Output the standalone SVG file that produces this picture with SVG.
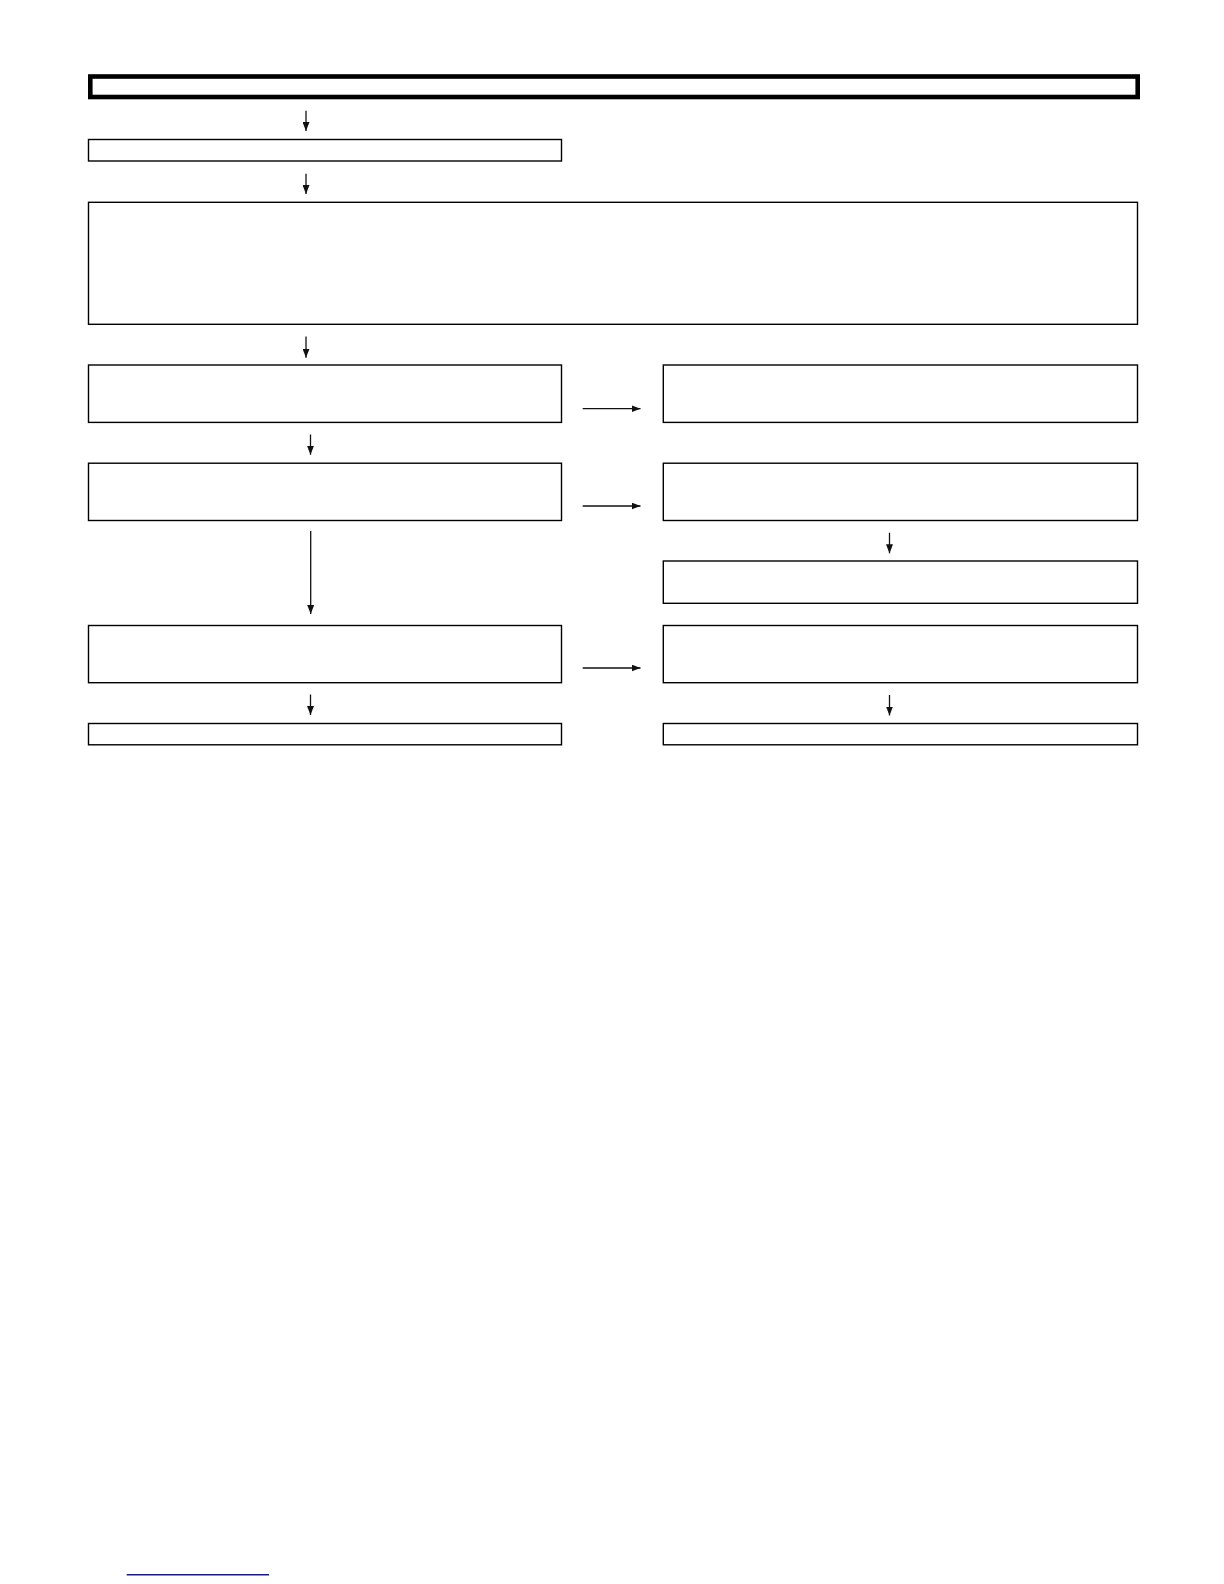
<svg xmlns="http://www.w3.org/2000/svg" width="1224" height="1584" viewBox="0 0 1224 1584">
  <style>
    .box { fill: #ffffff; stroke: #000000; stroke-width: 1.4; }
    .title { fill: #ffffff; stroke: #000000; stroke-width: 4.6; }
    .conn { stroke: #111111; stroke-width: 1.3; fill: none; marker-end: url(#arrow); }
  </style>
  <defs>
    <marker id="arrow" markerUnits="userSpaceOnUse" markerWidth="9" markerHeight="7" refX="9" refY="3.5" orient="auto">
      <path d="M0,0 L9,3.5 L0,7 z" fill="#111111"/>
    </marker>
  </defs>
  <rect width="1224" height="1584" fill="#ffffff"/>

  <g id="node-title"><rect class="title" x="90.3" y="76.5" width="1047.4" height="20.5"/></g>
  <g id="node-step1"><rect class="box" x="88.5" y="139.5" width="473" height="21.5"/></g>
  <g id="node-step2"><rect class="box" x="88.5" y="202.3" width="1049" height="122"/></g>
  <g id="node-left1"><rect class="box" x="88.5" y="365" width="473" height="57.4"/></g>
  <g id="node-right1"><rect class="box" x="663.3" y="365" width="474.2" height="57.4"/></g>
  <g id="node-left2"><rect class="box" x="88.5" y="463.2" width="473" height="57.3"/></g>
  <g id="node-right2"><rect class="box" x="663.3" y="463.2" width="474.2" height="57.3"/></g>
  <g id="node-right3"><rect class="box" x="663.3" y="561" width="474.2" height="42.3"/></g>
  <g id="node-left3"><rect class="box" x="88.5" y="625.5" width="473" height="57.2"/></g>
  <g id="node-right4"><rect class="box" x="663.3" y="625.5" width="474.2" height="57.2"/></g>
  <g id="node-left4"><rect class="box" x="88.5" y="723.5" width="473" height="21.3"/></g>
  <g id="node-right5"><rect class="box" x="663.3" y="723.5" width="474.2" height="21.3"/></g>

  <g id="connectors">
    <line class="conn" x1="306" y1="110.7" x2="306" y2="131"/>
    <line class="conn" x1="306" y1="173.8" x2="306" y2="194"/>
    <line class="conn" x1="306" y1="336.5" x2="306" y2="357.7"/>
    <line class="conn" x1="582.7" y1="408.7" x2="640.5" y2="408.7"/>
    <line class="conn" x1="310.5" y1="434.5" x2="310.5" y2="454.7"/>
    <line class="conn" x1="582.7" y1="506" x2="640.5" y2="506"/>
    <line class="conn" x1="889.5" y1="532.7" x2="889.5" y2="553.3"/>
    <line class="conn" x1="310.7" y1="531" x2="310.7" y2="614"/>
    <line class="conn" x1="582.7" y1="668" x2="640.5" y2="668"/>
    <line class="conn" x1="310.5" y1="694.5" x2="310.5" y2="715"/>
    <line class="conn" x1="889.5" y1="695" x2="889.5" y2="715.5"/>
  </g>

  <line x1="126.7" y1="1574.7" x2="269" y2="1574.7" stroke="#1a1a8c" stroke-width="1.5"/>
</svg>
